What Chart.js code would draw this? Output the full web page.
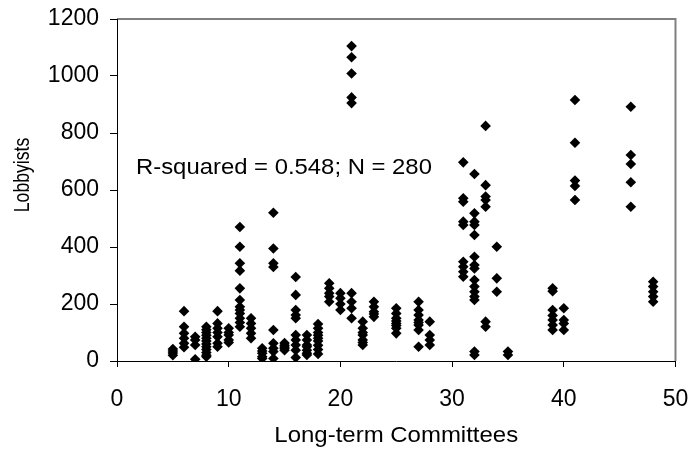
<!DOCTYPE html>
<html><head><meta charset="utf-8">
<script src="https://cdn.jsdelivr.net/npm/chart.js@4"></script>
<style>html,body{margin:0;padding:0;background:#fff}canvas{display:block}</style>
</head><body>
<canvas id="c" width="691" height="453"></canvas>
<script>
// Number of long-term committees (x) and the lobbyist counts observed at each
const committeeCounts = [5, 6, 7, 8, 9, 10, 11, 12, 13, 14, 15, 16, 17, 18, 19, 20, 21, 22, 23, 25, 27, 28, 31, 32, 33, 34, 35, 39, 40, 41, 46, 48];
const lobbyistsByCommittee = [
  [20, 28, 35, 42],
  [175, 120, 97, 80, 62, 48],
  [85, 74, 56, 6],
  [120, 110, 100, 90, 80, 70, 60, 50, 40, 30, 20, 15],
  [175, 132, 115, 100, 85, 62, 50],
  [115, 100, 91, 74, 65],
  [470, 401, 343, 317, 255, 214, 190, 179, 167, 150, 135, 120],
  [150, 132, 115, 97, 80],
  [45, 35, 27, 15, 9],
  [520, 395, 343, 330, 109, 62, 45, 33, 9],
  [63, 55, 49, 45, 38],
  [295, 232, 179, 161, 150, 91, 74, 56, 38, 12],
  [91, 74, 56, 50, 38, 27, 21],
  [130, 115, 100, 90, 80, 70, 55, 40, 25],
  [273, 255, 238, 226, 208],
  [238, 220, 200, 179],
  [1105, 1066, 1009, 925, 905, 238, 208, 185, 150],
  [138, 115, 100, 91, 74, 65, 56],
  [208, 190, 173, 165, 155],
  [185, 167, 150, 140, 132, 125, 115, 97],
  [208, 179, 161, 144, 135, 126, 109, 50],
  [138, 91, 74, 56],
  [697, 571, 559, 489, 477, 348, 331, 313, 296],
  [656, 518, 489, 477, 442, 366, 337, 325, 284, 261, 243, 226, 214, 33, 21],
  [825, 617, 577, 565, 541, 138, 120],
  [401, 290, 243],
  [33, 21],
  [255, 245, 179, 160, 144, 126, 109],
  [185, 144, 132, 109],
  [916, 766, 633, 614, 565],
  [892, 723, 691, 627, 541],
  [278, 261, 243, 226, 208]
];
const xTickValues = [0, 10, 20, 30, 40, 50];
const yTickValues = [0, 200, 400, 600, 800, 1000, 1200];
const xTitle = 'Long-term Committees';
const yTitle = 'Lobbyists';
const annotation = 'R-squared = 0.548; N = 280';

const points = [];
committeeCounts.forEach((c, i) => lobbyistsByCommittee[i].forEach(v => points.push({x: c, y: v})));

const FONT = 'Liberation Sans, Arial, sans-serif';

const deco = {
  id: 'deco',
  beforeDraw(chart) {
    const {ctx, chartArea: a} = chart;
    ctx.save();
    ctx.strokeStyle = '#808080';
    ctx.lineWidth = 2;
    ctx.beginPath();
    ctx.moveTo(a.left, a.top);
    ctx.lineTo(a.right, a.top);
    ctx.lineTo(a.right, a.bottom);
    ctx.stroke();
    ctx.restore();
  },
  afterDraw(chart) {
    const {ctx, chartArea: a} = chart;
    ctx.save();
    ctx.fillStyle = '#000';
    ctx.textBaseline = 'alphabetic';
    // x-axis title
    ctx.save();
    ctx.font = '22px ' + FONT;
    ctx.textAlign = 'center';
    ctx.translate((a.left + a.right) / 2, 442);
    ctx.scale(1.09, 1);
    ctx.fillText(xTitle, 0, 0);
    ctx.restore();
    // y-axis title
    ctx.save();
    ctx.font = '22px ' + FONT;
    ctx.textAlign = 'center';
    ctx.translate(29, 175);
    ctx.rotate(-Math.PI / 2);
    ctx.scale(0.8, 1);
    ctx.fillText(yTitle, 0, 0);
    ctx.restore();
    // annotation
    ctx.save();
    ctx.font = '22px ' + FONT;
    ctx.textAlign = 'left';
    ctx.translate(136, 174);
    ctx.scale(1.085, 1);
    ctx.fillText(annotation, 0, 0);
    ctx.restore();
    ctx.restore();
  }
};

new Chart(document.getElementById('c'), {
  type: 'scatter',
  data: {
    datasets: [{
      data: points,
      pointStyle: 'rectRot',
      pointRadius: 5.3,
      pointBorderWidth: 0,
      backgroundColor: '#000',
      borderColor: '#000'
    }]
  },
  options: {
    responsive: false,
    animation: false,
    layout: {padding: {top: 19, right: 15.5, left: 0, bottom: 0}},
    plugins: {legend: {display: false}, tooltip: {enabled: false}},
    scales: {
      x: {
        type: 'linear', min: 0, max: 50,
        afterBuildTicks: s => { s.ticks = xTickValues.map(v => ({value: v})); },
        grid: {drawOnChartArea: false, drawTicks: true, tickLength: 6, color: '#000'},
        border: {display: true, color: '#000', width: 1},
        ticks: {font: {family: FONT, size: 23}, color: '#000', padding: 19, maxRotation: 0, autoSkip: false,
                callback: v => String(v)},
        afterFit: s => { s.height = 92; s.paddingLeft = 0; s.paddingRight = 0; }
      },
      y: {
        type: 'linear', min: 0, max: 1200,
        afterBuildTicks: s => { s.ticks = yTickValues.map(v => ({value: v})); },
        grid: {drawOnChartArea: false, drawTicks: true, tickLength: 7, color: '#000'},
        border: {display: true, color: '#000', width: 1},
        ticks: {font: {family: FONT, size: 23}, color: '#000', padding: 11, autoSkip: false,
                callback: v => String(v)},
        afterFit: s => { s.width = 117; s.paddingTop = 0; s.paddingBottom = 0; }
      }
    }
  },
  plugins: [deco]
});
</script>
</body></html>
